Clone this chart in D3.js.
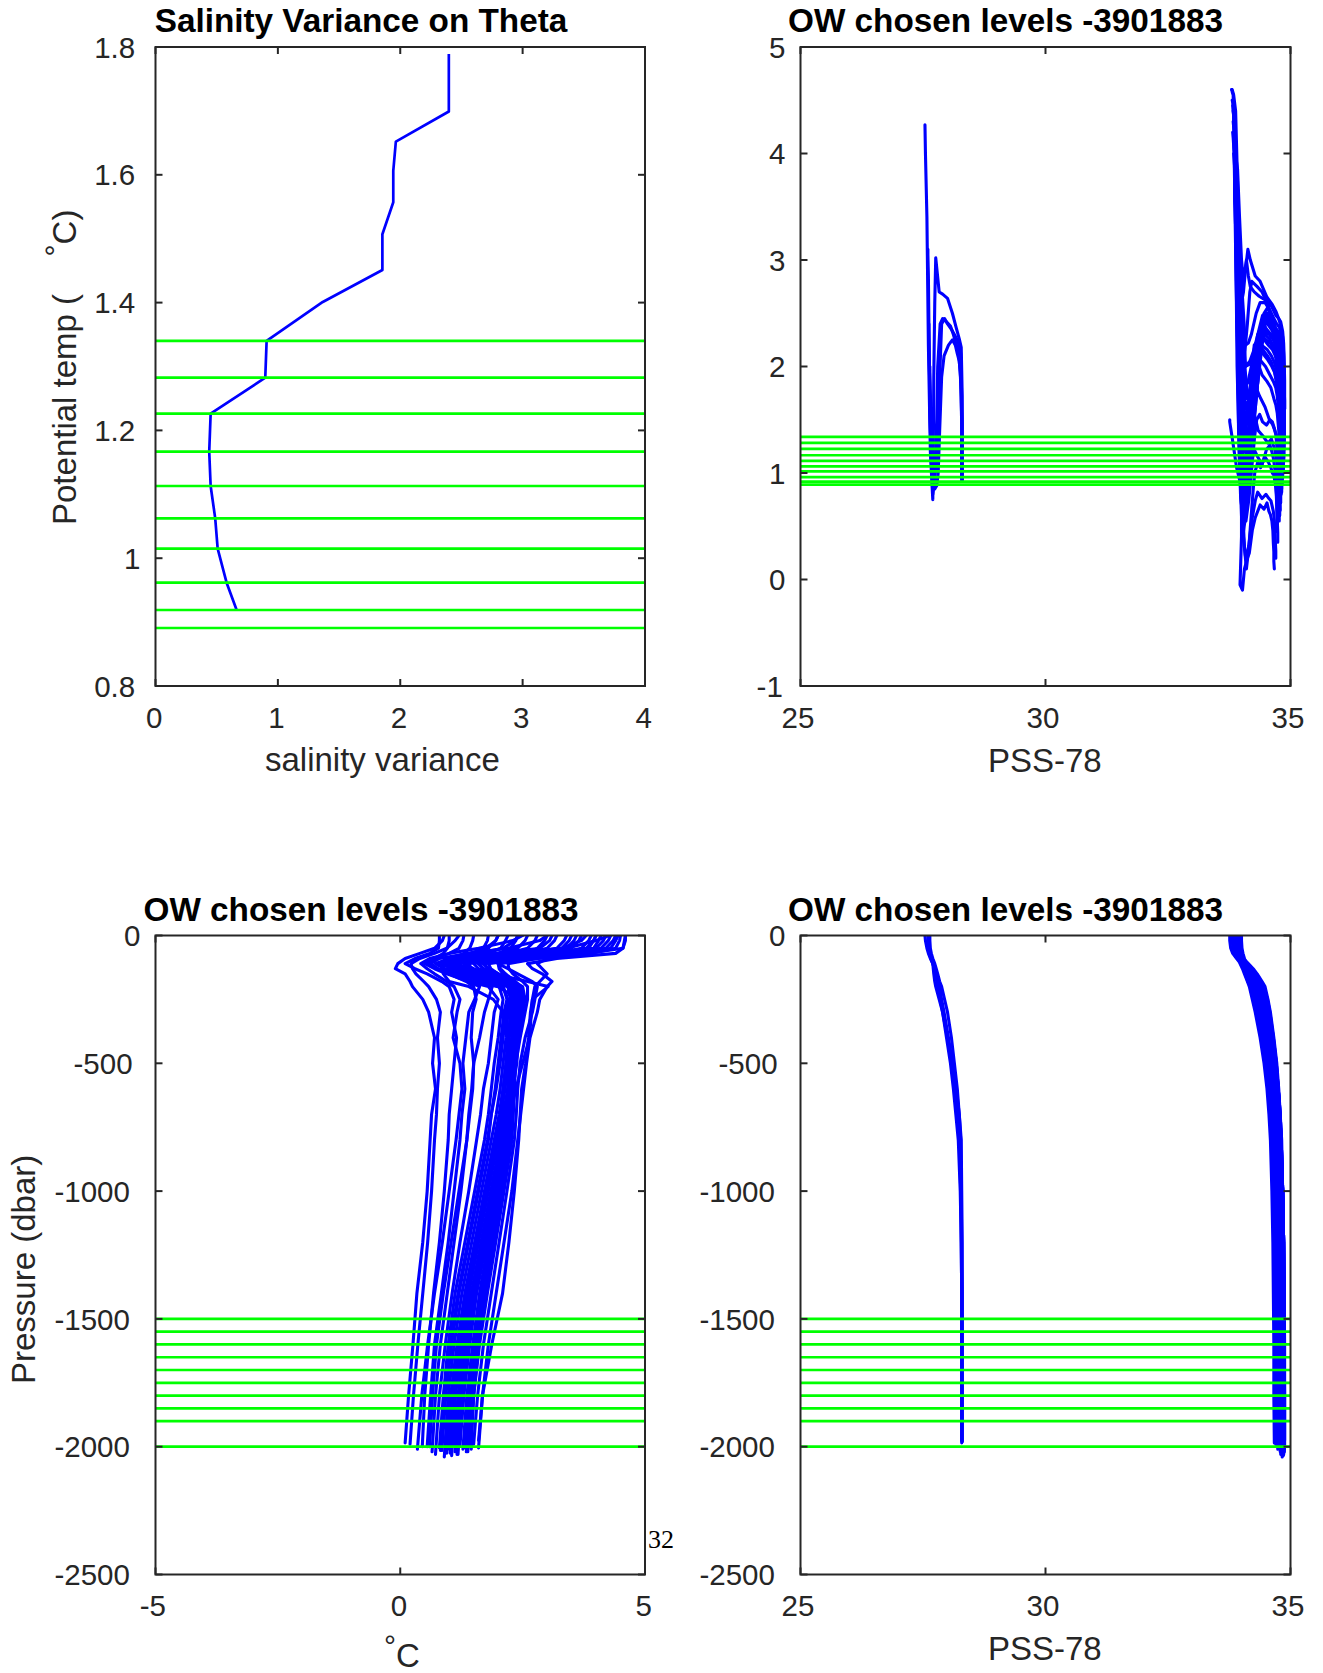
<!DOCTYPE html>
<html><head><meta charset="utf-8">
<script src="https://cdn.jsdelivr.net/npm/d3@7"></script>
<style>body{margin:0;background:#fff}svg{display:block}</style>
</head><body>
<svg id="fig" width="1323" height="1673"></svg>
<script>
// ---------------- DATA ----------------
// Panel 1: salinity variance on theta levels
const varTheta = [1.789,1.699,1.652,1.606,1.557,1.507,1.451,1.401,1.340,1.2825,1.2261,1.1667,1.113,1.0624,1.0149,0.9617,0.9189];
const varValue = [2.397,2.397,1.964,1.943,1.943,1.854,1.854,1.367,0.908,0.897,0.4506,0.439,0.4506,0.488,0.508,0.581,0.663];
// chosen theta levels and pressure levels (green)
const chosenTheta = [1.340,1.2825,1.2261,1.1667,1.113,1.0624,1.0149,0.9617,0.9189,0.8908];
const chosenPressure = [-1500,-1550,-1600,-1650,-1700,-1750,-1800,-1850,-1900,-2000];
// profile pressure grid (dbar); last level replaced by each profile's bottom pressure
const levelsP = [0,20,50,70,90,110,130,150,180,200,250,300,400,500,600,700,800,1000,1200,1400,1600,1800,2000];
const profileBottom = [1985,1990,2010,2000,2020,2030,2005,2015,2040,2025,2010,2035,2000,2020,2030,1995,2010,2020,2000,1990,2005,1975,2000,2015,2025,2010,2030,2005,2020,1995,2010,2000,1980,1975,1985,1980];
const profileTemp = [
[0.90,0.86,0.70,0.40,0.10,-0.05,-0.10,0.10,0.20,0.25,0.46,0.58,0.70,0.66,0.72,0.64,0.61,0.55,0.46,0.34,0.26,0.17,0.10],
[1.20,1.12,0.95,0.70,0.40,0.22,0.25,0.32,0.48,0.58,0.74,0.82,0.76,0.80,0.76,0.74,0.70,0.64,0.56,0.46,0.36,0.27,0.20],
[2.50,2.30,1.60,1.00,0.60,0.42,0.55,0.70,0.95,1.10,1.22,1.16,1.08,1.22,1.26,1.20,1.14,1.00,0.86,0.70,0.56,0.44,0.35],
[3.00,2.85,2.20,1.40,0.80,0.62,0.78,1.00,1.40,1.62,1.52,1.40,1.34,1.28,1.32,1.26,1.22,1.10,0.98,0.84,0.70,0.62,0.55],
[3.80,3.70,3.30,2.00,1.10,0.82,0.90,1.10,1.50,1.88,1.80,1.72,1.62,1.50,1.46,1.40,1.36,1.24,1.10,0.96,0.82,0.72,0.65],
[1.00,1.00,0.96,0.88,0.70,0.50,0.70,0.95,1.40,1.80,2.00,1.92,1.86,1.80,1.70,1.64,1.56,1.40,1.22,1.06,0.92,0.80,0.72],
[4.20,4.15,4.00,2.80,1.50,1.02,1.10,1.30,1.62,2.02,2.10,2.06,2.00,1.92,1.86,1.80,1.72,1.52,1.32,1.12,0.98,0.88,0.80],
[2.00,1.95,1.80,1.50,1.00,0.72,0.90,1.20,1.70,2.10,2.20,2.16,2.10,2.04,1.96,1.86,1.80,1.60,1.40,1.20,1.05,0.93,0.85],
[4.60,4.58,4.55,3.80,2.00,1.30,1.35,1.55,1.92,2.20,2.25,2.20,2.16,2.10,2.04,1.96,1.86,1.66,1.46,1.26,1.10,0.98,0.90],
[3.50,3.45,3.30,2.80,2.00,1.40,1.45,1.62,2.00,2.22,2.30,2.26,2.20,2.16,2.10,2.02,1.92,1.72,1.52,1.32,1.16,1.03,0.95],
[2.80,2.75,2.60,2.20,1.60,1.20,1.30,1.50,2.00,2.26,2.32,2.30,2.26,2.20,2.14,2.06,1.96,1.76,1.56,1.36,1.20,1.08,1.00],
[4.00,3.95,3.80,3.20,2.20,1.50,1.60,1.80,2.10,2.30,2.36,2.32,2.30,2.25,2.20,2.10,2.00,1.80,1.60,1.40,1.25,1.13,1.05],
[1.50,1.48,1.42,1.30,1.05,0.90,1.00,1.30,1.80,2.20,2.30,2.35,2.30,2.25,2.20,2.15,2.05,1.85,1.65,1.46,1.30,1.18,1.10],
[4.40,4.35,4.20,3.60,2.60,1.80,1.85,2.00,2.20,2.35,2.40,2.35,2.30,2.28,2.22,2.15,2.08,1.88,1.68,1.48,1.32,1.20,1.12],
[3.20,3.15,3.00,2.60,1.80,1.30,1.45,1.70,2.10,2.30,2.40,2.40,2.35,2.28,2.25,2.20,2.10,1.92,1.72,1.52,1.38,1.26,1.18],
[4.50,4.48,4.40,3.90,2.80,2.00,2.02,2.10,2.25,2.40,2.45,2.40,2.35,2.28,2.26,2.22,2.15,1.95,1.76,1.56,1.42,1.30,1.22],
[2.20,2.15,2.05,1.80,1.40,1.10,1.30,1.60,2.10,2.40,2.50,2.45,2.38,2.30,2.28,2.25,2.18,2.00,1.80,1.62,1.48,1.36,1.28],
[3.90,3.85,3.70,3.20,2.30,1.70,1.80,2.00,2.30,2.50,2.55,2.50,2.42,2.32,2.30,2.28,2.22,2.05,1.87,1.70,1.55,1.44,1.35],
[4.30,4.25,4.10,3.60,2.80,2.20,2.22,2.30,2.50,2.60,2.60,2.55,2.45,2.36,2.33,2.31,2.28,2.12,1.95,1.78,1.62,1.50,1.42],
[3.00,2.95,2.80,2.60,2.30,2.00,2.20,2.40,2.70,2.80,2.75,2.70,2.55,2.45,2.40,2.37,2.33,2.18,2.02,1.86,1.70,1.58,1.50],
[4.60,4.60,4.55,4.40,3.20,2.60,2.70,2.90,3.10,3.00,2.85,2.80,2.65,2.58,2.52,2.46,2.40,2.28,2.12,1.96,1.80,1.68,1.60],
[4.00,3.95,3.85,3.40,3.00,2.80,2.90,3.00,2.85,2.75,2.70,2.66,2.62,2.56,2.48,2.45,2.42,2.33,2.22,2.09,1.87,1.68,1.60],
[0.80,0.80,0.78,0.60,0.30,0.10,0.30,0.55,0.85,1.00,1.10,1.05,1.15,1.10,1.05,1.00,0.98,0.90,0.80,0.68,0.58,0.50,0.45],
[3.60,3.55,3.40,2.40,1.40,1.00,1.15,1.40,1.85,2.10,2.18,2.12,2.06,2.00,1.94,1.86,1.78,1.58,1.38,1.18,1.02,0.90,0.82],
[2.60,2.55,2.40,2.00,1.50,1.20,1.35,1.60,2.00,2.20,2.28,2.25,2.22,2.16,2.10,2.04,1.96,1.76,1.56,1.38,1.22,1.10,1.02],
[4.10,4.05,3.95,3.30,2.40,1.60,1.70,1.90,2.20,2.35,2.38,2.34,2.30,2.26,2.22,2.16,2.08,1.90,1.70,1.50,1.35,1.22,1.14],
[1.80,1.78,1.70,1.50,1.20,1.00,1.20,1.50,2.00,2.25,2.35,2.32,2.28,2.24,2.20,2.14,2.06,1.88,1.70,1.52,1.36,1.24,1.16],
[3.40,3.35,3.20,2.70,2.00,1.60,1.70,1.90,2.25,2.42,2.45,2.42,2.36,2.30,2.27,2.24,2.18,2.00,1.82,1.64,1.50,1.38,1.30],
[4.45,4.40,4.30,3.80,2.70,2.00,2.05,2.15,2.35,2.48,2.50,2.46,2.40,2.34,2.30,2.28,2.24,2.08,1.90,1.72,1.58,1.46,1.38],
[2.40,2.36,2.25,2.00,1.60,1.30,1.50,1.80,2.20,2.40,2.48,2.44,2.36,2.30,2.26,2.22,2.16,2.00,1.84,1.68,1.52,1.42,1.34],
[3.70,3.65,3.50,3.00,2.20,1.70,1.80,2.00,2.30,2.45,2.50,2.46,2.38,2.32,2.30,2.27,2.22,2.06,1.90,1.74,1.60,1.50,1.45],
[1.30,1.28,1.20,1.00,0.70,0.55,0.75,1.00,1.35,1.50,1.55,1.48,1.45,1.50,1.48,1.42,1.36,1.20,1.04,0.88,0.74,0.66,0.60],
[4.27,4.00,3.40,2.20,1.20,0.75,1.20,1.90,2.60,3.02,2.70,2.68,2.64,2.50,2.36,2.26,2.18,1.96,1.72,1.46,1.22,1.05,0.92],
[2.40,2.35,2.10,1.60,1.10,0.80,0.90,1.10,1.50,2.00,2.40,2.45,2.42,2.38,2.30,2.22,2.15,1.95,1.72,1.50,1.28,1.10,0.95],
[3.10,3.05,2.85,2.00,1.20,0.90,0.85,0.88,1.00,1.40,1.90,2.10,2.20,2.25,2.20,2.12,2.05,1.88,1.66,1.45,1.25,1.08,0.93],
[2.00,1.95,1.75,1.40,1.05,0.95,1.10,1.40,1.90,2.40,2.45,2.40,2.35,2.30,2.25,2.20,2.12,1.92,1.70,1.48,1.27,1.10,0.94]
];
const profileSal = [
[33.99,33.99,34.00,34.00,33.98,33.97,34.02,34.06,34.12,34.16,34.22,34.28,34.38,34.46,34.52,34.56,34.59,34.62,34.64,34.65,34.66,34.66,34.67],
[33.98,33.98,33.99,34.01,34.04,34.08,34.12,34.15,34.19,34.22,34.28,34.33,34.42,34.50,34.56,34.60,34.62,34.65,34.67,34.68,34.69,34.70,34.70],
[33.94,33.94,33.95,33.97,34.00,34.03,34.07,34.11,34.16,34.20,34.26,34.32,34.42,34.51,34.58,34.62,34.65,34.69,34.71,34.72,34.73,34.74,34.74],
[33.90,33.90,33.92,33.94,33.98,34.02,34.07,34.12,34.18,34.22,34.28,34.34,34.45,34.54,34.61,34.65,34.68,34.72,34.74,34.75,34.76,34.77,34.77],
[33.86,33.86,33.88,33.91,33.96,34.00,34.05,34.10,34.17,34.22,34.30,34.37,34.48,34.57,34.63,34.68,34.71,34.74,34.76,34.77,34.78,34.79,34.79],
[33.96,33.96,33.97,33.98,34.00,34.03,34.08,34.14,34.22,34.28,34.36,34.42,34.52,34.60,34.66,34.70,34.73,34.76,34.78,34.79,34.80,34.80,34.80],
[33.82,33.83,33.85,33.89,33.95,34.01,34.07,34.13,34.20,34.25,34.32,34.38,34.49,34.58,34.65,34.70,34.73,34.77,34.79,34.80,34.81,34.81,34.81],
[33.92,33.92,33.93,33.95,33.98,34.02,34.07,34.13,34.22,34.28,34.36,34.43,34.53,34.61,34.67,34.71,34.74,34.78,34.80,34.81,34.82,34.82,34.82],
[33.80,33.81,33.83,33.86,33.93,34.00,34.06,34.12,34.20,34.26,34.34,34.41,34.52,34.61,34.67,34.72,34.75,34.79,34.81,34.82,34.83,34.83,34.83],
[33.88,33.88,33.90,33.92,33.97,34.04,34.10,34.16,34.25,34.31,34.39,34.45,34.55,34.63,34.69,34.73,34.76,34.80,34.82,34.83,34.84,34.84,34.84],
[33.93,33.93,33.94,33.96,34.00,34.06,34.13,34.19,34.28,34.34,34.42,34.48,34.57,34.65,34.70,34.74,34.77,34.81,34.83,34.84,34.84,34.85,34.85],
[33.84,33.85,33.87,33.90,33.97,34.05,34.12,34.18,34.27,34.33,34.41,34.47,34.57,34.65,34.70,34.74,34.77,34.81,34.83,34.84,34.85,34.85,34.85],
[33.76,33.76,33.78,33.82,33.90,33.98,34.06,34.13,34.24,34.32,34.42,34.49,34.58,34.66,34.71,34.75,34.78,34.82,34.84,34.85,34.85,34.86,34.86],
[33.83,33.84,33.86,33.89,33.96,34.05,34.13,34.20,34.30,34.37,34.45,34.51,34.60,34.67,34.72,34.76,34.79,34.82,34.84,34.85,34.86,34.86,34.86],
[33.90,33.90,33.92,33.95,34.01,34.09,34.16,34.23,34.33,34.40,34.47,34.53,34.61,34.68,34.73,34.77,34.80,34.83,34.85,34.86,34.86,34.86,34.86],
[33.81,33.82,33.85,33.89,33.97,34.08,34.16,34.24,34.35,34.42,34.49,34.55,34.62,34.69,34.74,34.78,34.80,34.83,34.85,34.86,34.86,34.87,34.87],
[33.95,33.95,33.96,33.98,34.04,34.12,34.20,34.28,34.38,34.44,34.51,34.56,34.64,34.70,34.75,34.78,34.81,34.84,34.85,34.86,34.86,34.87,34.87],
[33.86,33.87,33.89,33.93,34.02,34.12,34.20,34.28,34.39,34.46,34.53,34.58,34.65,34.71,34.75,34.79,34.81,34.84,34.86,34.86,34.87,34.87,34.87],
[33.83,33.84,33.87,33.91,34.00,34.08,34.14,34.20,34.30,34.38,34.48,34.55,34.63,34.70,34.75,34.78,34.81,34.84,34.86,34.87,34.87,34.87,34.87],
[33.92,33.93,33.95,33.98,34.02,34.05,34.08,34.12,34.17,34.21,34.32,34.42,34.56,34.66,34.72,34.77,34.80,34.84,34.86,34.87,34.87,34.87,34.87],
[33.80,33.81,33.84,33.88,33.95,34.00,34.04,34.08,34.13,34.18,34.28,34.38,34.52,34.63,34.70,34.75,34.79,34.84,34.86,34.87,34.87,34.88,34.88],
[33.88,33.89,33.92,33.96,34.00,34.04,34.07,34.10,34.14,34.18,34.26,34.36,34.50,34.62,34.70,34.76,34.80,34.84,34.86,34.87,34.88,34.88,34.88],
[34.00,34.00,34.01,34.03,34.06,34.10,34.15,34.19,34.24,34.27,34.33,34.39,34.48,34.55,34.60,34.63,34.66,34.69,34.71,34.72,34.73,34.73,34.73],
[33.87,33.87,33.89,33.92,33.97,34.02,34.09,34.15,34.24,34.30,34.38,34.44,34.54,34.62,34.68,34.72,34.75,34.78,34.80,34.81,34.82,34.82,34.82],
[33.91,33.91,33.92,33.95,34.00,34.07,34.15,34.22,34.31,34.37,34.44,34.50,34.59,34.66,34.71,34.75,34.78,34.81,34.83,34.84,34.85,34.85,34.85],
[33.85,33.85,33.87,33.91,33.98,34.07,34.15,34.22,34.32,34.39,34.46,34.52,34.60,34.67,34.72,34.76,34.79,34.82,34.84,34.85,34.86,34.86,34.86],
[33.94,33.94,33.95,33.97,34.02,34.10,34.18,34.26,34.36,34.42,34.49,34.54,34.62,34.69,34.74,34.77,34.80,34.83,34.85,34.86,34.86,34.86,34.86],
[33.89,33.89,33.91,33.94,34.00,34.08,34.17,34.25,34.35,34.42,34.50,34.55,34.63,34.70,34.75,34.78,34.81,34.84,34.85,34.86,34.87,34.87,34.87],
[33.82,33.83,33.86,33.90,33.98,34.08,34.17,34.25,34.36,34.43,34.51,34.57,34.64,34.71,34.75,34.79,34.81,34.84,34.86,34.87,34.87,34.87,34.87],
[33.93,33.93,33.94,33.97,34.04,34.14,34.24,34.32,34.42,34.48,34.54,34.59,34.66,34.72,34.76,34.79,34.82,34.84,34.86,34.86,34.87,34.87,34.87],
[33.86,33.86,33.88,33.92,34.00,34.10,34.19,34.27,34.38,34.45,34.52,34.57,34.65,34.71,34.75,34.79,34.81,34.84,34.86,34.87,34.87,34.87,34.87],
[33.97,33.97,33.98,34.00,34.04,34.09,34.15,34.20,34.27,34.31,34.37,34.43,34.51,34.58,34.63,34.67,34.70,34.73,34.75,34.76,34.77,34.78,34.78],
[27.54,27.55,27.58,27.61,27.65,27.70,27.71,27.72,27.74,27.76,27.83,27.90,28.00,28.10,28.18,28.24,28.28,28.29,28.30,28.30,28.30,28.30,28.30],
[27.62,27.62,27.63,27.64,27.67,27.70,27.73,27.75,27.78,27.80,27.85,27.90,27.98,28.06,28.12,28.17,28.22,28.26,28.28,28.29,28.29,28.29,28.29],
[27.60,27.60,27.61,27.63,27.66,27.70,27.74,27.78,27.81,27.84,27.88,27.93,28.02,28.10,28.16,28.20,28.24,28.27,28.28,28.29,28.29,28.29,28.29],
[27.64,27.64,27.65,27.67,27.70,27.74,27.77,27.80,27.84,27.88,27.94,28.00,28.08,28.14,28.20,28.24,28.27,28.28,28.29,28.30,28.30,28.30,28.30]
];
// tick values
const tlXTicks = [0,1,2,3,4];
const tlYTicks = [0.8,1,1.2,1.4,1.6,1.8];
const salXTicks = [25,30,35];
const trYTicks = [-1,0,1,2,3,4,5];
const blXTicks = [-5,0,5];
const presYTicks = [-2500,-2000,-1500,-1000,-500,0];
// texts
const titleTL = "Salinity Variance on Theta";
const titleOW = "OW chosen levels -3901883";

// ---------------- DRAWING ----------------
const FONT = "'Liberation Sans', Arial, Helvetica, sans-serif";
const AX = "#262626", BLUE = "#0000ff", GREEN = "#00ff00";
const FS_TICK = 29.5, FS_LAB = 33, FS_TITLE = 33.3;
const LW_PROF = 3.1, LW_GREEN = 2.7, LW_VAR = 2.7;
const svg = d3.select("#fig").style("font-family", FONT);
const defs = svg.append("defs");
let clipN = 0;

function makePanel(L, R, T, B, xDom, yDom) {
  const x = d3.scaleLinear().domain(xDom).range([L, R]);
  const y = d3.scaleLinear().domain(yDom).range([B, T]);
  const id = "clip" + (clipN++);
  defs.append("clipPath").attr("id", id).append("rect")
    .attr("x", L).attr("y", T).attr("width", R - L).attr("height", B - T);
  const g = svg.append("g");
  const plot = g.append("g").attr("clip-path", `url(#${id})`);
  return {x, y, L, R, T, B, g, plot};
}

function drawAxes(p, xTicks, yTicks) {
  const {x, y, L, R, T, B, g} = p;
  const a = g.append("g");
  const TL = 7;
  a.append("rect").attr("x", L).attr("y", T).attr("width", R - L).attr("height", B - T)
    .attr("fill", "none").attr("stroke", AX).attr("stroke-width", 2);
  const tick = (data, f) => a.selectAll(null).data(data).join("line").each(function(d){
      const c = f(d); d3.select(this).attr("x1", c[0]).attr("y1", c[1]).attr("x2", c[2]).attr("y2", c[3]);
    }).attr("stroke", AX).attr("stroke-width", 2);
  tick(xTicks, d => [x(d), B, x(d), B - TL]);
  tick(xTicks, d => [x(d), T, x(d), T + TL]);
  tick(yTicks, d => [L, y(d), L + TL, y(d)]);
  tick(yTicks, d => [R, y(d), R - TL, y(d)]);
  a.selectAll(null).data(xTicks).join("text")
    .attr("x", d => x(d) - String(d).length * 1.3).attr("y", B + 41.5)
    .attr("text-anchor", "middle").attr("font-size", FS_TICK).attr("fill", AX)
    .text(d => String(d));
  a.selectAll(null).data(yTicks).join("text")
    .attr("x", d => L - 15 - (String(d).length - 1) * 2.65).attr("y", d => y(d)).attr("dy", "0.36em")
    .attr("text-anchor", "end").attr("font-size", FS_TICK).attr("fill", AX)
    .text(d => String(d));
}

function title(txt, x0, yb) {
  svg.append("text").attr("x", x0).attr("y", yb).attr("font-size", FS_TITLE)
    .attr("font-weight", "bold").attr("fill", "#000").text(txt);
}
function xlabel(txt, x0, yb) {
  svg.append("text").attr("x", x0).attr("y", yb).attr("font-size", FS_LAB)
    .attr("fill", AX).text(txt);
}
function greenH(p, vals) {
  p.plot.selectAll(null).data(vals).join("line")
    .attr("x1", p.L).attr("x2", p.R).attr("y1", d => p.y(d)).attr("y2", d => p.y(d))
    .attr("stroke", GREEN).attr("stroke-width", LW_GREEN);
}
function drawProfiles(p, xf, yf) {
  p.plot.selectAll(null).data(profiles).join("path")
    .attr("d", d3.line().x(d => p.x(xf(d))).y(d => p.y(yf(d))))
    .attr("fill", "none").attr("stroke", BLUE).attr("stroke-width", LW_PROF)
    .attr("stroke-linejoin", "round").attr("stroke-linecap", "round");
}

const L1 = 155.5, R1 = 645, L2 = 800.5, R2 = 1290.5;
const T1 = 47, B1 = 686, T2 = 935.5, B2 = 1574.5;

const profiles = profileTemp.map((tArr, i) => levelsP.map((pp, k) => ({
  p: k === levelsP.length - 1 ? profileBottom[i] : pp,
  t: tArr[k], s: profileSal[i][k]
})));

// --- Panel TL ---
const pTL = makePanel(L1, R1, T1, B1, [0, 4], [0.8, 1.8]);
pTL.plot.append("path").datum(varTheta.map((th, i) => [varValue[i], th]))
  .attr("d", d3.line().x(d => pTL.x(d[0])).y(d => pTL.y(d[1])))
  .attr("fill", "none").attr("stroke", BLUE).attr("stroke-width", LW_VAR).attr("stroke-linejoin", "round");
greenH(pTL, chosenTheta);
drawAxes(pTL, tlXTicks, tlYTicks);
title(titleTL, 154.7, 32);
xlabel("salinity variance", 265, 771);
svg.append("text").attr("transform", "translate(76,525) rotate(-90)").attr("font-size", FS_LAB).attr("fill", AX)
  .call(t => {
    t.append("tspan").text("Potential temp (");
    t.append("tspan").attr("dx", 37.5).attr("dy", -10).attr("font-size", 30).text("°");
    t.append("tspan").attr("dy", 10).text("C)");
  });

// --- Panel TR ---
const pTR = makePanel(L2, R2, T1, B1, [25, 35], [-1, 5]);
drawProfiles(pTR, d => d.s, d => d.t);
greenH(pTR, chosenTheta);
drawAxes(pTR, salXTicks, trYTicks);
title(titleOW, 788, 32);
xlabel("PSS-78", 988, 772);

// --- Panel BL ---
const pBL = makePanel(L1, R1, T2, B2, [-5, 5], [-2500, 0]);
drawProfiles(pBL, d => d.t, d => -d.p);
greenH(pBL, chosenPressure);
drawAxes(pBL, blXTicks, presYTicks);
title(titleOW, 143.5, 920.5);
svg.append("text").attr("x", 384).attr("y", 1667).attr("font-size", FS_LAB).attr("fill", AX)
  .call(t => {
    t.append("tspan").attr("dy", -11).attr("font-size", 30).text("°");
    t.append("tspan").attr("dy", 11).text("C");
  });
svg.append("text").attr("transform", "translate(35,1384) rotate(-90)").attr("font-size", FS_LAB)
  .attr("fill", AX).text("Pressure (dbar)");

// --- Panel BR ---
const pBR = makePanel(L2, R2, T2, B2, [25, 35], [-2500, 0]);
drawProfiles(pBR, d => d.s, d => -d.p);
greenH(pBR, chosenPressure);
drawAxes(pBR, salXTicks, presYTicks);
title(titleOW, 788, 920.5);
xlabel("PSS-78", 988, 1660);

// page number artifact
svg.append("text").attr("x", 648).attr("y", 1548).attr("font-size", 26)
  .attr("font-family", "'Liberation Serif', 'DejaVu Serif', serif").attr("fill", "#000").text("32");
</script>
</body></html>
